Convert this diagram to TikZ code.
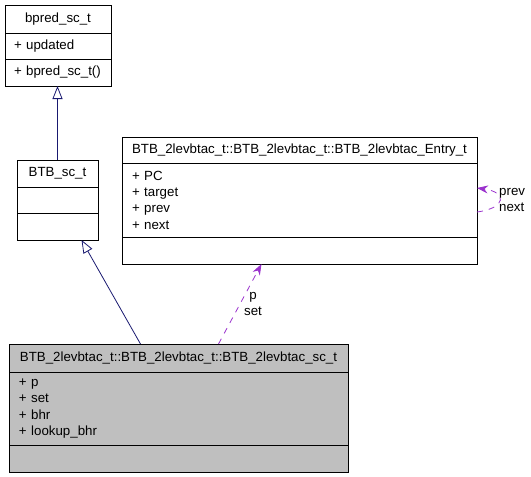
\documentclass[tikz,border=0pt]{standalone}
\usepackage{fontspec}
\setmainfont{Liberation Sans}
\usetikzlibrary{arrows.meta,positioning}
\definecolor{inhcol}{RGB}{25,25,112}
\definecolor{usecol}{RGB}{154,50,205}
\newcommand{\umlfont}{\fontsize{13.3}{16.3}\selectfont}

\begin{document}
\begin{tikzpicture}[x=1pt,y=-1pt,>=Stealth,
 ttl/.style={draw=black,line width=0.8pt,outer sep=0pt,align=center,font=\umlfont,inner xsep=10pt,inner ysep=0pt},
 mem/.style={draw=black,line width=0.8pt,outer sep=0pt,align=left,font=\umlfont,inner xsep=10pt,inner ysep=0pt},
 inh/.style={-{Triangle[open,length=13pt,width=10pt]},draw=inhcol,line width=0.8pt},
 usg/.style={-{Stealth[length=11pt,width=8pt]},draw=usecol,line width=0.8pt,dash pattern=on 6pt off 6pt},
 l/.style={font=\umlfont,inner sep=0pt}]
 \useasboundingbox (0,0) rectangle (531,477);
 % bpred_sc_t
 \node[ttl,anchor=north west,inner xsep=9pt,text width=88pt,minimum height=28pt] (bpname) at (5,5) {bpred\_sc\_t};
 \node[mem,below=0pt of bpname,inner xsep=9pt,text width=88pt,minimum height=26pt] (bpattr) {+ updated};
 \node[mem,below=0pt of bpattr,inner xsep=9pt,text width=88pt,minimum height=27pt] (bpmeth) {+ bpred\_sc\_t()};
 % BTB_sc_t
 \node[ttl,anchor=north west,text width=61pt,minimum height=27pt] (btbname) at (17,160) {BTB\_sc\_t};
 \node[mem,below=0pt of btbname,text width=61pt,minimum height=26pt] (btbattr) {};
 \node[mem,below=0pt of btbattr,text width=61pt,minimum height=27pt] (btbmeth) {};
 % entry type
 \node[ttl,anchor=north west,text width=335pt,minimum height=26pt] (entname) at (122,137) {BTB\_2levbtac\_t::BTB\_2levbtac\_t::BTB\_2levbtac\_Entry\_t};
 \node[mem,below=0pt of entname,text width=335pt,minimum height=74pt] (entattr) {+ PC\\+ target\\+ prev\\+ next};
 \node[mem,below=0pt of entattr,text width=335pt,minimum height=27pt] (entmeth) {};
 % the class itself
 \node[ttl,fill=black!25,anchor=north west,text width=319pt,minimum height=28pt] (scname) at (9,344) {BTB\_2levbtac\_t::BTB\_2levbtac\_t::BTB\_2levbtac\_sc\_t};
 \node[mem,fill=black!25,below=0pt of scname,text width=319pt,minimum height=73pt] (scattr) {+ p\\+ set\\+ bhr\\+ lookup\_bhr};
 \node[mem,fill=black!25,below=0pt of scattr,text width=319pt,minimum height=27pt] (scmeth) {};
 % inheritance
 \draw[inh] (btbname.north) -- (btbname.north |- bpmeth.south);
 \draw[inh] ([xshift=-38pt]scname.north) -- ([xshift=24pt]btbmeth.south);
 % usage
 \draw[usg] ([xshift=40pt]scname.north) -- ([xshift=-38pt]entmeth.south);
 \node[l,align=center] (uselab) at (253,304) {p\\set};
 \draw[usg] ([yshift=-12pt]entattr.east) .. controls +(30,-4) and +(30,4) .. ([yshift=12pt]entattr.east);
 \node[l,align=left,anchor=west] (looplab) at (499,200) {prev\\next};
\end{tikzpicture}
\end{document}
